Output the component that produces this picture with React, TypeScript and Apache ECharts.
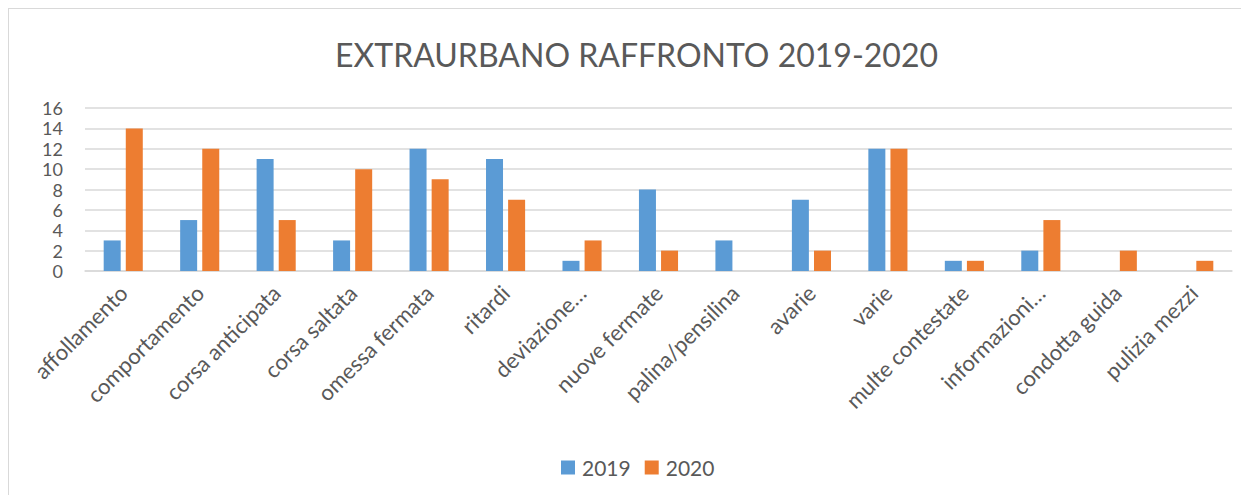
import React, { useEffect, useRef } from "react";
import * as echarts from "echarts";

const categories = [
  "affollamento",
  "comportamento",
  "corsa anticipata",
  "corsa saltata",
  "omessa fermata",
  "ritardi",
  "deviazione…",
  "nuove fermate",
  "palina/pensilina",
  "avarie",
  "varie",
  "multe contestate",
  "informazioni…",
  "condotta guida",
  "pulizia mezzi",
];
const values2019 = [3, 5, 11, 3, 12, 11, 1, 8, 3, 7, 12, 1, 2, 0, 0];
const values2020 = [14, 12, 5, 10, 9, 7, 3, 2, 0, 2, 12, 1, 5, 2, 1];
const seriesNames = ["2019", "2020"];
const titleText = "EXTRAURBANO RAFFRONTO 2019-2020";

const FONT = "Lato, 'Open Sans', sans-serif";
const TEXT = "#595959";

export default function App() {
  const ref = useRef<HTMLDivElement>(null);
  useEffect(() => {
    if (!ref.current) return;
    const chart = echarts.init(ref.current, undefined, { renderer: "svg" });
    chart.setOption({
      animation: false,
      backgroundColor: "#ffffff",
      title: {
        text: titleText,
        left: 321,
        top: 24,
        textStyle: { color: TEXT, fontFamily: FONT, fontSize: 32, fontWeight: "normal" },
      },
      legend: {
        data: seriesNames,
        bottom: 12,
        left: 547,
        itemWidth: 14,
        itemHeight: 14,
        itemGap: 14,
        icon: "rect",
        textStyle: { color: TEXT, fontFamily: FONT, fontSize: 21, padding: [0, 0, 0, 2] },
      },
      grid: { left: 76, right: 17, top: 99, bottom: 224, containLabel: false },
      xAxis: {
        type: "category",
        data: categories,
        axisLine: { lineStyle: { color: "#D9D9D9", width: 1.5 } },
        axisTick: { show: false },
        axisLabel: {
          rotate: 45,
          interval: 0,
          margin: 18,
          color: TEXT,
          fontFamily: FONT,
          fontSize: 22,
        },
      },
      yAxis: {
        type: "value",
        min: 0,
        max: 16,
        interval: 2,
        axisLine: { show: false },
        axisTick: { show: false },
        axisLabel: {
          color: TEXT,
          fontFamily: FONT,
          fontSize: 18,
          lineHeight: 16,
          margin: 22,
        },
        splitLine: { lineStyle: { color: "#D9D9D9", width: 1.5 } },
      },
      series: [
        {
          name: seriesNames[0],
          type: "bar",
          data: values2019,
          barWidth: 17,
          barGap: "30%",
          itemStyle: { color: "#5B9BD5" },
        },
        {
          name: seriesNames[1],
          type: "bar",
          data: values2020,
          barWidth: 17,
          barGap: "30%",
          itemStyle: { color: "#ED7D31" },
        },
      ],
    });
    return () => chart.dispose();
  }, []);
  return (
    <div
      style={{
        width: 1241,
        height: 487,
        borderLeft: "1px solid #D9D9D9",
        borderTop: "1px solid #D9D9D9",
        boxSizing: "border-box",
        overflow: "hidden",
      }}
    >
      <div ref={ref} style={{ width: 1240, height: 486 }} />
    </div>
  );
}
